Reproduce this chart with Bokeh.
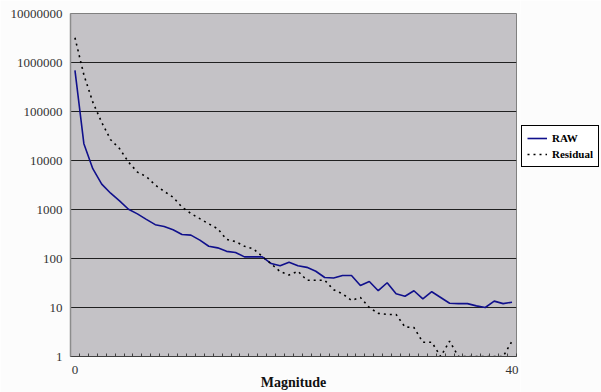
from bokeh.plotting import figure
from bokeh.layouts import row
from bokeh.models import FixedTicker, NumeralTickFormatter, Legend, LegendItem, Range1d
from bokeh.embed import file_html
from bokeh.resources import INLINE

# ---- data ----
magnitude = list(range(50))
x_tick_labels = {0: "0", 49: "40"}
y_ticks = [1, 10, 100, 1000, 10000, 100000, 1000000, 10000000]

raw = [690000, 22000, 6800, 3300, 2150, 1500, 1010, 815, 630, 490,
       450, 385, 310, 300, 237, 178, 165, 140, 133, 108,
       108, 108, 79, 71, 84, 71, 66, 55, 41, 40,
       45, 45, 28, 34, 22, 32, 19, 17, 22, 15,
       21, 16, 12.2, 12, 12, 10.8, 10, 13.5, 12, 12.8]

residual = [3200000, 560000, 155000, 60000, 26500, 17500, 9300, 5800, 4700, 3150,
            2350, 1780, 1120, 830, 650, 510, 405, 245, 222, 178,
            158, 110, 78, 54, 46, 55, 36, 36, 36, 23,
            19, 14, 16, 10, 7.6, 7.2, 7.2, 4.0, 3.9, 1.96,
            1.96, 1, 2.05, 1, 1, 1, 1, 1, 1, 2.05]

SERIF = "'Liberation Serif', 'Times New Roman', serif"
BG = "#fcfcfc"
RAW_COLOR = "#10108c"
RES_COLOR = "#000000"

p = figure(frame_width=446, frame_height=343, y_axis_type="log",
           x_range=Range1d(-0.5, 49.5), y_range=Range1d(1, 1e7),
           output_backend="svg", toolbar_location=None,
           min_border_left=70, min_border_right=4,
           min_border_top=13, min_border_bottom=36)

p.background_fill_color = "#c4c2c6"
p.border_fill_color = BG
p.outline_line_color = "#808080"

p.xgrid.visible = False
p.ygrid.ticker = FixedTicker(ticks=y_ticks, minor_ticks=[])
p.ygrid.grid_line_color = "#202020"
p.ygrid.grid_line_width = 1

# y axis
p.yaxis.ticker = FixedTicker(ticks=y_ticks, minor_ticks=[])
p.yaxis.formatter = NumeralTickFormatter(format="0")
p.yaxis.major_tick_line_color = None
p.yaxis.major_tick_in = 0
p.yaxis.major_tick_out = 0
p.yaxis.minor_tick_line_color = None
p.yaxis.minor_tick_in = 0
p.yaxis.minor_tick_out = 0
p.yaxis.axis_line_color = "#8c8c8c"
p.yaxis.axis_line_width = 1.5
p.yaxis.major_label_standoff = 8
p.yaxis.major_label_text_font = SERIF
p.yaxis.major_label_text_font_size = "13px"
p.yaxis.major_label_text_color = "#333333"

# x axis
p.xaxis.ticker = FixedTicker(ticks=[0, 49], minor_ticks=[i - 0.5 for i in range(51)])
p.xaxis.major_label_overrides = x_tick_labels
p.xaxis.major_tick_line_color = None
p.xaxis.major_tick_in = 0
p.xaxis.major_tick_out = 0
p.xaxis.minor_tick_in = 3
p.xaxis.minor_tick_out = 0
p.xaxis.minor_tick_line_color = "#404040"
p.xaxis.axis_line_color = "#404040"
p.xaxis.major_label_standoff = 9
p.xaxis.major_label_text_font = SERIF
p.xaxis.major_label_text_font_size = "13px"
p.xaxis.major_label_text_color = "#333333"
p.xaxis.axis_label = "Magnitude"
p.xaxis.axis_label_standoff = -2
p.xaxis.axis_label_text_font = SERIF
p.xaxis.axis_label_text_font_style = "bold"
p.xaxis.axis_label_text_font_size = "14px"
p.xaxis.axis_label_text_color = "#111111"

p.line(magnitude, raw, line_color=RAW_COLOR, line_width=1.6)
p.line(magnitude, residual, line_color=RES_COLOR, line_width=1.6, line_dash="2 4")

# legend panel: a small companion figure holding the legend
lg = figure(width=81, height=392, x_range=Range1d(1000, 1001), y_range=Range1d(1000, 1001),
            output_backend="svg", toolbar_location=None,
            x_axis_location=None, y_axis_location=None,
            min_border_left=0, min_border_right=0, min_border_top=0, min_border_bottom=0)
lg.background_fill_color = BG
lg.border_fill_color = BG
lg.outline_line_color = None
lg.xgrid.visible = False
lg.ygrid.visible = False
k1 = lg.line(magnitude, raw, line_color=RAW_COLOR, line_width=1.6)
k2 = lg.line(magnitude, residual, line_color=RES_COLOR, line_width=1.6, line_dash="2 4")

legend = Legend(items=[LegendItem(label="RAW", renderers=[k1]),
                       LegendItem(label="Residual", renderers=[k2])],
                location=(1, 189))
legend.label_text_font = SERIF
legend.label_text_font_style = "bold"
legend.label_text_font_size = "11px"
legend.label_text_color = "#000000"
legend.glyph_width = 20
legend.glyph_height = 14
legend.label_height = 14
legend.label_standoff = 5
legend.spacing = 2
legend.padding = 5
legend.margin = 0
legend.border_line_color = "#000000"
legend.border_line_alpha = 1
legend.border_line_width = 1.5
legend.background_fill_color = "#ffffff"
legend.background_fill_alpha = 1
lg.add_layout(legend)

layout = row(p, lg)
open("out.html", "w").write(file_html(layout, INLINE))
